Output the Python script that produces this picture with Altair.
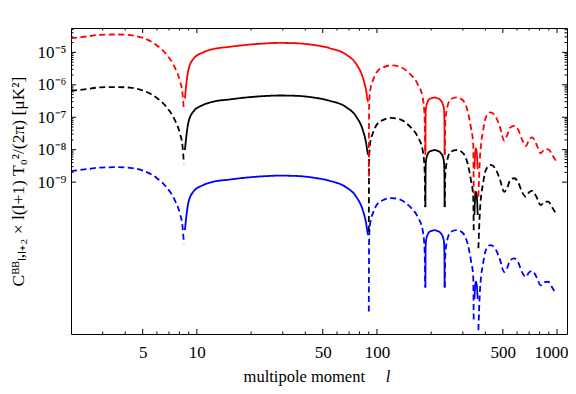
import altair as alt
import pandas as pd

# multipole grid (shared by all three curves)
ell = [2.0, 2.45, 2.90, 3.59, 4.25, 5.04, 5.98, 6.79, 7.55, 8.05, 8.33, 8.47,
       8.58, 8.95, 9.54, 10.84, 12.31, 15.23, 18.85, 23.30, 28.83, 35.67, 44.10, 54.56,
       67.5, 76.7, 83.4, 87.1, 88.9, 89.7,
       90.1, 90.5, 91.7, 94.8, 101.0, 107.7, 119.9, 133.2, 151.4, 168.3, 179.4, 184.0, 185.4,
       185.8, 186.4, 188.3, 190.7, 194.8, 199.1, 204.3, 209.7, 215.3, 222.0, 227.2, 232.3,
       235.6, 237.0, 237.5,
       238.0, 239.6, 246.8, 257.7, 276.8, 298.8, 318.5, 332.6, 342.5, 344.7,
       347.8, 351.3, 354.5, 358.1, 362.7,
       365.9, 372.1, 379.3, 385.6, 399.1, 411.0, 425.4, 438.0, 459.2, 483.3, 508.6, 528.4,
       549.0, 578, 608, 640, 671, 700, 730, 765, 812, 852, 895, 938, 984]

# sign of the spectrum (negative -> dashed, positive -> solid)
sign = ([-1] * 12 + [1] * 18 + [-1] * 13 + [1] * 15 + [-1] * 10 + [1] * 5 + [-1] * 25)

# log10 of |C| for each curve
log_red = [-4.57, -4.51, -4.46, -4.45, -4.47, -4.56, -4.78, -5.07, -5.47, -5.88, -6.29, -6.78,
           -6.42, -5.57, -5.21, -5.00, -4.90, -4.83, -4.77, -4.73, -4.71, -4.72, -4.77, -4.87,
           -5.07, -5.36, -5.77, -6.18, -6.49, -6.52,
           -8.83, -6.63, -6.18, -5.88, -5.57, -5.47, -5.40, -5.44, -5.65, -5.98, -6.39, -7.01, -8.16,
           -8.16, -6.85, -6.64, -6.54, -6.45, -6.42, -6.40, -6.39, -6.41, -6.44, -6.50, -6.60,
           -6.76, -7.16, -8.16,
           -8.16, -7.16, -6.65, -6.44, -6.39, -6.47, -6.80, -7.32, -7.83, -9.35,
           -8.60, -8.08, -7.96, -8.08, -8.60,
           -9.45, -8.39, -7.78, -7.52, -7.07, -6.91, -6.85, -6.87, -7.01, -7.32, -7.72, -7.56,
           -7.32, -7.27, -7.38, -7.69, -7.89, -7.69, -7.62, -7.81, -8.11, -7.99, -7.99, -8.15, -8.34]

log_black = [-6.19, -6.13, -6.08, -6.07, -6.09, -6.18, -6.40, -6.69, -7.09, -7.50, -7.91, -8.42,
             -8.01, -7.19, -6.83, -6.62, -6.52, -6.45, -6.39, -6.35, -6.33, -6.34, -6.39, -6.49,
             -6.69, -6.98, -7.39, -7.80, -8.11, -8.16,
             -10.53, -8.25, -7.80, -7.50, -7.19, -7.09, -7.02, -7.06, -7.27, -7.60, -8.01, -8.63, -9.77,
             -9.77, -8.47, -8.26, -8.16, -8.07, -8.04, -8.02, -8.01, -8.03, -8.06, -8.12, -8.22,
             -8.38, -8.78, -9.77,
             -9.77, -8.78, -8.27, -8.06, -8.01, -8.09, -8.42, -8.94, -9.45, -10.48,
             -10.01, -9.40, -9.30, -9.40, -10.01,
             -11.04, -10.01, -9.40, -9.14, -8.69, -8.53, -8.47, -8.49, -8.63, -8.94, -9.30, -9.18,
             -8.94, -8.88, -9.00, -9.31, -9.45, -9.31, -9.27, -9.43, -9.71, -9.61, -9.60, -9.77, -9.96]

log_blue = [-8.66, -8.60, -8.55, -8.54, -8.56, -8.65, -8.87, -9.16, -9.56, -9.97, -10.38, -10.89,
            -10.48, -9.66, -9.30, -9.09, -8.99, -8.92, -8.86, -8.82, -8.80, -8.81, -8.86, -8.96,
            -9.16, -9.45, -9.86, -10.27, -10.58, -10.63,
            -12.99, -10.72, -10.27, -9.97, -9.66, -9.56, -9.49, -9.53, -9.74, -10.07, -10.48, -11.10, -12.25,
            -12.25, -10.94, -10.73, -10.63, -10.54, -10.51, -10.49, -10.48, -10.50, -10.53, -10.59, -10.69,
            -10.85, -11.25, -12.25,
            -12.25, -11.25, -10.74, -10.53, -10.48, -10.56, -10.89, -11.41, -11.92, -13.34,
            -12.60, -12.17, -12.07, -12.17, -12.60,
            -13.56, -12.48, -11.87, -11.61, -11.16, -11.00, -10.94, -10.96, -11.10, -11.41, -11.77, -11.65,
            -11.41, -11.35, -11.47, -11.78, -11.92, -11.78, -11.74, -11.90, -12.18, -12.08, -12.07, -12.24, -12.43]

series_names = ["blue", "black", "red"]
series_logs = [log_blue, log_black, log_red]

# tick values
xt_major = [5, 10, 50, 100, 500, 1000]
xt_minor = [3, 4, 6, 7, 8, 9, 20, 30, 40, 60, 70, 80, 90, 200, 300, 400, 600, 700, 800, 900]
yt_major = [1e-9, 1e-8, 1e-7, 1e-6, 1e-5]
yt_minor = [2e-9, 3e-9, 4e-9, 5e-9, 6e-9, 7e-9, 8e-9, 9e-9,
            2e-8, 3e-8, 4e-8, 5e-8, 6e-8, 7e-8, 8e-8, 9e-8,
            2e-7, 3e-7, 4e-7, 5e-7, 6e-7, 7e-7, 8e-7, 9e-7,
            2e-6, 3e-6, 4e-6, 5e-6, 6e-6, 7e-6, 8e-6, 9e-6,
            2e-5, 3e-5, 4e-5, 5e-5]

for s in series_logs:
    assert len(s) == len(ell) == len(sign)

rows = []
for name, logs in zip(series_names, series_logs):
    seg = 0
    for i, (l, lv, sg) in enumerate(zip(ell, logs, sign)):
        if i > 0 and sg != sign[i - 1]:
            seg += 1
        rows.append({"l": l, "v": 10 ** lv, "series": name,
                     "part": "pos" if sg > 0 else "neg",
                     "key": f"{name}-{seg}"})
df = pd.DataFrame(rows)

W, H = 496, 306
FONT = "Liberation Serif"
MAJ, MIN = 5, 2.5

xscale = alt.Scale(type="log", domain=[2.0, 1136], nice=False)
yscale = alt.Scale(type="log", domain=[10 ** -13.68, 10 ** -4.25], nice=False)

ylabel_expr = ("datum.value > 5e-6 ? '10⁻⁵' : datum.value > 5e-7 ? '10⁻⁶' : "
               "datum.value > 5e-8 ? '10⁻⁷' : datum.value > 5e-9 ? '10⁻⁸' : '10⁻⁹'")

lines = alt.Chart(df).mark_line(strokeWidth=1.8, interpolate="monotone", clip=True).encode(
    x=alt.X("l:Q", scale=xscale,
            axis=alt.Axis(values=xt_major, format="d", title=None, ticks=False, domain=False,
                          grid=False, labelFont=FONT, labelFontSize=17, labelColor="black",
                          labelPadding=10, labelOverlap=False, labelFlush=False,
                          labelOffset={"condition": {"test": "datum.value >= 1000", "value": -6},
                                       "value": 0})),
    y=alt.Y("v:Q", scale=yscale,
            axis=alt.Axis(values=yt_major, labelExpr=ylabel_expr, ticks=False, domain=False,
                          grid=False, labelFont=FONT, labelFontSize=17, labelColor="black",
                          labelPadding=5, labelOverlap=False, labelFlush=False,
                          title="Cᴮᴮₗ,ₗ₊₂  ×  l(l+1) T₀²/(2π)  [μK²]",
                          titleFont=FONT, titleFontSize=17.5, titleFontWeight="normal",
                          titleColor="black", titleX=-53, titleY=H / 2, titleAngle=270,
                          titleAlign="center", titleBaseline="middle")),
    color=alt.Color("series:N", scale=alt.Scale(domain=["red", "black", "blue"],
                                                range=["#ff0000", "#000000", "#0000ff"]),
                    legend=None),
    strokeDash=alt.StrokeDash("part:N", scale=alt.Scale(domain=["pos", "neg"],
                                                        range=[[1, 0], [6, 3.5]]),
                              legend=None),
    detail="key:N",
)


def xticks(values, y1, y2):
    d = pd.DataFrame({"tv": values})
    return alt.Chart(d).mark_rule(color="black", strokeWidth=1).encode(
        x=alt.X("tv:Q", scale=xscale), y=alt.value(y1), y2=alt.value(y2))


def yticks(values, x1, x2):
    d = pd.DataFrame({"tv": values})
    return alt.Chart(d).mark_rule(color="black", strokeWidth=1).encode(
        y=alt.Y("tv:Q", scale=yscale), x=alt.value(x1), x2=alt.value(x2))


tick_layers = [
    xticks(xt_major, H, H - MAJ), xticks(xt_minor, H, H - MIN),
    xticks(xt_major, 0, MAJ), xticks(xt_minor, 0, MIN),
    yticks(yt_major, 0, MAJ), yticks(yt_minor, 0, MIN),
    yticks(yt_major, W, W - MAJ), yticks(yt_minor, W, W - MIN),
]

title_df = pd.DataFrame({"t": ["multipole moment"]})
xtitle = alt.Chart(title_df).mark_text(font=FONT, fontSize=16.5, align="right",
                                       baseline="middle", color="black").encode(
    x=alt.value(294), y=alt.value(349), text="t:N")
ell_df = pd.DataFrame({"t": ["l"]})
xtitle_l = alt.Chart(ell_df).mark_text(font=FONT, fontSize=16.5, fontStyle="italic",
                                       align="center", baseline="middle", color="black").encode(
    x=alt.value(317), y=alt.value(349), text="t:N")

chart = alt.layer(lines, *tick_layers, xtitle, xtitle_l).properties(
    width=W, height=H,
    padding={"left": 63, "top": 20, "right": 1, "bottom": 52},
    autosize=alt.AutoSizeParams(type="none"),
    background="white",
).configure_view(stroke="black", strokeWidth=1)

chart.save("out.html", embed_options={"renderer": "svg", "actions": False})
